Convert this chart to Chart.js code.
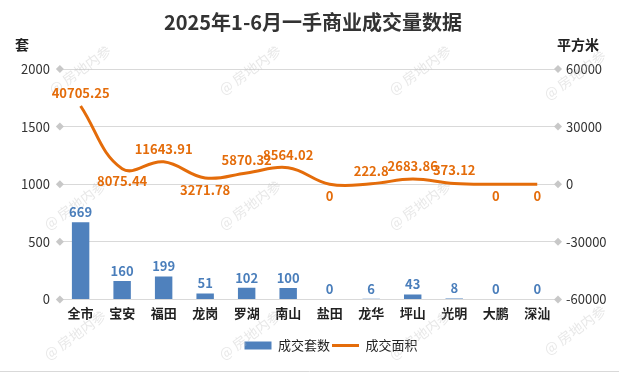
<!DOCTYPE html>
<html>
<head>
<meta charset="utf-8">
<script src="https://cdn.jsdelivr.net/npm/chart.js@4"></script>
<style>
	html, body { margin: 0; padding: 0; background: #fff; }
	#wrap { width: 619px; height: 374px; position: relative; }
</style>
</head>
<body>
<div id="wrap"><canvas id="chart" width="619" height="374"></canvas></div>
<script>
const districts = ["全市", "宝安", "福田", "龙岗", "罗湖", "南山", "盐田", "龙华", "坪山", "光明", "大鹏", "深汕"];
const unitCounts = [669, 160, 199, 51, 102, 100, 0, 6, 43, 8, 0, 0];
const areaValues = [40705.25, 8075.44, 11643.91, 3271.78, 5870.32, 8564.02, 0, 222.8, 2683.86, 373.12, 0, 0];
const areaLabelBelow = [false, true, false, true, false, false, true, false, false, false, true, true];
const leftTicks = [0, 500, 1000, 1500, 2000];
const rightTicks = [-60000, -30000, 0, 30000, 60000];

const barColor = "#4f81bd";
const lineColor = "#e46c0a";
const fontFamily = "'Microsoft YaHei', 'Noto Sans CJK SC', sans-serif";

const extras = {
	id: "extras",
	afterLayout(chart) {
		// legend sits a little right of centre in the original
		chart.legend.left += 18;
		chart.legend.right += 18;
	},
	beforeDatasetsDraw(chart) {
		const { ctx, chartArea, scales } = chart;
		ctx.save();
		// watermarks
		ctx.fillStyle = "rgba(190, 190, 190, 0.35)";
		ctx.font = "14px " + fontFamily;
		ctx.textAlign = "center";
		ctx.textBaseline = "middle";
		[[80, 70], [250, 70], [420, 70], [575, 75], [75, 205], [250, 205], [420, 205], [75, 335], [250, 335], [420, 335], [575, 330]].forEach(([x, y]) => {
			ctx.save();
			ctx.translate(x, y);
			ctx.rotate(-Math.PI / 5);
			ctx.fillText("@ 房地内参", 0, 0);
			ctx.restore();
		});
		// diamond markers at tick ends
		ctx.fillStyle = "#c8c8c8";
		const yl = scales.y;
		yl.ticks.forEach((t) => {
			const y = yl.getPixelForValue(t.value);
			[chartArea.left, chartArea.right].forEach((x) => {
				ctx.beginPath();
				ctx.moveTo(x, y - 4);
				ctx.lineTo(x + 4, y);
				ctx.lineTo(x, y + 4);
				ctx.lineTo(x - 4, y);
				ctx.closePath();
				ctx.fill();
			});
		});
		// axis unit titles
		ctx.fillStyle = "#222";
		ctx.font = "bold 14px " + fontFamily;
		ctx.textAlign = "center";
		ctx.fillText("套", 22, 45);
		ctx.fillText("平方米", 578, 45);
		// bottom border
		ctx.strokeStyle = "#d9d9d9";
		ctx.lineWidth = 1;
		ctx.beginPath();
		ctx.moveTo(0, 371.5);
		ctx.lineTo(619, 371.5);
		ctx.stroke();
		ctx.restore();
	},
	afterDatasetsDraw(chart) {
		const { ctx } = chart;
		ctx.save();
		ctx.textAlign = "center";
		ctx.textBaseline = "middle";
		ctx.font = "bold 13px " + fontFamily;
		ctx.fillStyle = "#4a7ebb";
		chart.getDatasetMeta(0).data.forEach((bar, i) => {
			ctx.fillText(String(unitCounts[i]), bar.x, bar.y - 10);
		});
		ctx.fillStyle = lineColor;
		chart.getDatasetMeta(1).data.forEach((pt, i) => {
			const dy = areaLabelBelow[i] ? 12 : -13;
			ctx.fillText(String(areaValues[i]), pt.x, pt.y + dy);
		});
		ctx.restore();
	},
};

new Chart(document.getElementById("chart"), {
	data: {
		labels: districts,
		datasets: [
			{
				type: "bar",
				label: "成交套数",
				data: unitCounts,
				backgroundColor: barColor,
				yAxisID: "y",
				barPercentage: 0.42,
				categoryPercentage: 1,
				order: 2,
			},
			{
				type: "line",
				label: "成交面积",
				data: areaValues,
				borderColor: lineColor,
				backgroundColor: lineColor,
				borderWidth: 3,
				pointRadius: 0,
				tension: 0.4,
				yAxisID: "y1",
				order: 1,
			},
		],
	},
	options: {
		responsive: false,
		animation: false,
		layout: { padding: { left: 11, right: 4, top: 0, bottom: 12 } },
		plugins: {
			title: {
				display: true,
				text: "2025年1-6月一手商业成交量数据",
				color: "#333",
				font: { size: 20, weight: "bold", family: fontFamily },
				padding: { top: 10, bottom: 35 },
			},
			legend: {
				position: "bottom",
				labels: {
					usePointStyle: true,
					pointStyleWidth: 27,
					boxHeight: 8,
					padding: 2,
					color: "#222",
					font: { size: 13, family: fontFamily },
					generateLabels(chart) {
						return chart.data.datasets.map((ds, i) => ({
							text: ds.label,
							fillStyle: ds.backgroundColor,
							strokeStyle: ds.type === "line" ? ds.borderColor : ds.backgroundColor,
							lineWidth: ds.type === "line" ? 3 : 0,
							pointStyle: ds.type === "line" ? "line" : "rect",
							datasetIndex: i,
							fontColor: "#222",
						}));
					},
				},
			},
			tooltip: { enabled: false },
		},
		scales: {
			x: {
				afterFit(axis) { axis.height += 10; },
				grid: { display: false, drawTicks: false },
				border: { color: "#d9d9d9" },
				ticks: { color: "#222", font: { size: 13, weight: "bold", family: fontFamily }, padding: 6 },
			},
			y: {
				position: "left",
				min: 0,
				max: 2000,
				afterBuildTicks(axis) { axis.ticks = leftTicks.map((v) => ({ value: v })); },
				grid: { color: "#d9d9d9", drawTicks: false },
				border: { display: false },
				ticks: { color: "#333", font: { size: 13, family: fontFamily }, padding: 10, callback: (v) => String(v) },
			},
			y1: {
				position: "right",
				min: -60000,
				max: 60000,
				afterBuildTicks(axis) { axis.ticks = rightTicks.map((v) => ({ value: v })); },
				afterFit(axis) { axis.width = 57; },
				grid: { display: false, drawTicks: false },
				border: { display: false },
				ticks: { color: "#333", font: { size: 13, family: fontFamily }, padding: 8, callback: (v) => String(v) },
			},
		},
	},
	plugins: [extras],
});
</script>
</body>
</html>
